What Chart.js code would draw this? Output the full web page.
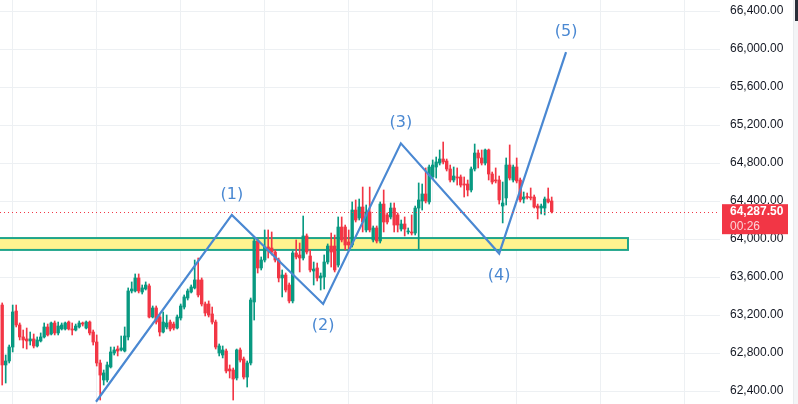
<!DOCTYPE html>
<html>
<head>
<meta charset="utf-8">
<style>
html,body{margin:0;padding:0;background:#ffffff;overflow:hidden}
#wrap{width:798px;height:404px;position:relative}
canvas{display:block}
</style>
<script src="https://cdn.jsdelivr.net/npm/chart.js@4.4.1/dist/chart.umd.min.js"></script>
</head>
<body>
<div id="wrap"><canvas id="c" width="798" height="404"></canvas></div>
<script>
// ---- data ----
const openP = [
63305,62674,62716,62863,63242,63095,62969,62948,62927,62948,
62874,62927,62969,63074,63000,63116,63011,63053,63053,63126,
63053,63042,63074,63116,63063,63126,63021,62916,62695,62516,
62516,62653,62800,62842,62832,62821,62969,63453,63453,63590,
63442,63474,63506,63179,63274,63179,63021,63074,63126,63105,
63063,63169,63284,63379,63442,63485,63569,63569,63316,63316,
63211,63126,62800,62779,62821,62632,62621,62537,62832,62737,
62547,62695,63337,63979,63695,63779,63916,63905,63863,63779,
63590,63621,63516,63348,63853,63832,63800,64032,63821,63663,
63695,63590,63600,63758,63926,63926,63726,64126,64126,63969,
63937,64305,64221,64337,64095,64284,63990,64116,63979,64368,
64253,64232,64326,64253,64105,64158,64074,64074,64063,64326,
64400,64474,64390,64653,64758,64800,64842,64821,64737,64621,
64653,64653,64579,64579,64516,64737,64905,64853,64800,64937,
64684,64621,64621,64347,64432,64779,64621,64758,64621,64421,
64442,64442,64442,64347,64326,64326,64421,64400];
const highP = [
63327,62779,62884,63305,63305,63116,63042,63063,63021,63000,
62969,63011,63116,63105,63126,63137,63126,63116,63126,63137,
63116,63105,63137,63126,63137,63137,63042,62990,62726,62621,
62705,62863,62863,62874,62979,63074,63485,63548,63632,63632,
63516,63548,63527,63295,63295,63200,63232,63200,63147,63126,
63200,63316,63411,63474,63516,63779,63800,63590,63337,63348,
63284,63147,62895,62874,62842,62674,62642,62842,62853,62758,
62716,63379,64011,64000,63811,64095,64095,64074,63884,63800,
63674,63642,63537,63874,63990,63958,64242,64053,63884,63758,
63747,63642,63832,63948,64063,64042,64232,64232,64147,64095,
64390,64411,64421,64547,64358,64547,64137,64137,64390,64516,
64274,64379,64379,64274,64200,64232,64116,64253,64347,64590,
64579,64748,64779,64832,64863,64937,65021,64842,64779,64758,
64748,64674,64653,64621,64758,65000,64937,64937,64947,64947,
64705,64748,64663,64600,64853,64990,64779,64853,64642,64495,
64484,64537,64463,64368,64368,64442,64537,64442];
const lowP = [
62463,62484,62695,62811,63074,62937,62853,62842,62884,62853,
62863,62916,62958,62979,62990,62990,62990,63042,63042,63042,
62990,63032,63063,63084,63053,62990,62884,62663,62305,62463,
62495,62642,62779,62769,62821,62811,62937,63432,63442,63432,
63421,63463,63169,63169,63105,62979,63011,63053,63032,63042,
63053,63147,63263,63358,63432,63474,63390,63295,63190,63179,
63105,62842,62769,62748,62590,62537,62305,62516,62705,62526,
62442,62674,63147,63642,63674,63758,63800,63832,63758,63548,
63390,63442,63327,63327,63790,63653,63779,63842,63653,63516,
63558,63463,63474,63737,63705,63653,63705,63969,63884,63884,
63916,64179,64200,64074,64074,64074,63969,63958,63958,64074,
64158,64211,64074,64074,64084,64032,64053,64042,64042,63895,
64305,64379,64368,64632,64642,64779,64790,64716,64600,64600,
64568,64547,64442,64453,64495,64716,64748,64779,64779,64621,
64579,64590,64368,64169,64358,64621,64600,64590,64390,64379,
64421,64411,64326,64211,64263,64253,64379,64274];
const closeP = [
62674,62716,62863,63232,63095,62969,62937,62927,62948,62874,
62937,62969,63074,62990,63116,63011,63084,63095,63116,63053,
63042,63084,63116,63105,63126,63011,62916,62695,62568,62590,
62674,62811,62832,62821,62853,62979,63453,63474,63590,63453,
63485,63516,63179,63274,63126,63021,63126,63116,63053,63063,
63179,63295,63390,63453,63495,63569,63411,63316,63221,63200,
63126,62863,62874,62832,62611,62611,62526,62832,62726,62547,
62695,63358,63979,63695,63779,63916,63874,63863,63779,63590,
63621,63463,63348,63853,63811,63800,64032,63863,63674,63684,
63590,63611,63758,63926,63863,63674,64126,63990,63937,63937,
64305,64200,64337,64179,64284,64095,64116,63979,64368,64179,
64179,64326,64147,64147,64158,64105,64084,64063,64326,64411,
64474,64400,64758,64779,64811,64842,64811,64737,64621,64663,
64642,64568,64568,64516,64737,64905,64853,64800,64937,64684,
64600,64611,64411,64379,64779,64642,64758,64611,64411,64442,
64437,64432,64337,64326,64347,64421,64390,64287.5];

const yTickValues = [62400,62800,63200,63600,64000,64400,64800,65200,65600,66000,66400];
const xGridIndex = [3,27,51,75,99,123,147,171,195];

// Elliott wave pivots (bar index, price)
const waveIndex = [26.8, 65.6, 91.7, 113.9, 142.0, 161.1];
const wavePrice = [62287, 64253, 63316, 65007, 63847, 65968];
const waveLabels = ['(1)','(2)','(3)','(4)','(5)'];

// support zone
const zoneTop = 64010;
const zoneBottom = 63885;
const zoneEndIndex = 178.8;

const lastPrice = 64287.5;
const countdown = '00:26';

// ---- styling ----
const GREEN = '#089981';
const RED = '#f23645';
const BLUE = '#4a88d2';
const GRID = '#edf0f3';

const idx = openP.map((_, i) => i);
const candleColors = idx.map(i => closeP[i] >= openP[i] ? GREEN : RED);
const fmt = v => Number(v).toLocaleString('en-US', {minimumFractionDigits: 2, maximumFractionDigits: 2});

const zonePlugin = {
  id: 'zone',
  beforeDatasetsDraw(chart) {
    const {ctx, chartArea, scales: {x, y}} = chart;
    const x1 = x.getPixelForValue(zoneEndIndex);
    const yt = y.getPixelForValue(zoneTop);
    const yb = y.getPixelForValue(zoneBottom);
    ctx.save();
    ctx.beginPath();
    ctx.rect(chartArea.left, chartArea.top, chartArea.right - chartArea.left, chartArea.bottom - chartArea.top);
    ctx.clip();
    ctx.fillStyle = '#fff38f';
    ctx.fillRect(chartArea.left - 5, yt, x1 - chartArea.left + 5, yb - yt);
    ctx.strokeStyle = '#1fa58a';
    ctx.lineWidth = 2;
    ctx.strokeRect(chartArea.left - 5, yt, x1 - chartArea.left + 5, yb - yt);
    ctx.restore();
  }
};

const overlayPlugin = {
  id: 'overlay',
  afterDatasetsDraw(chart) {
    const {ctx, chartArea, scales: {x, y}} = chart;
    // price line
    const py = Math.round(y.getPixelForValue(lastPrice)) + 0.5;
    ctx.save();
    ctx.strokeStyle = RED;
    ctx.lineWidth = 1;
    ctx.setLineDash([1, 3]);
    ctx.beginPath();
    ctx.moveTo(chartArea.left, py);
    ctx.lineTo(chartArea.right, py);
    ctx.stroke();
    ctx.setLineDash([]);
    // wave labels
    ctx.fillStyle = BLUE;
    ctx.font = '16px "DejaVu Sans"';
    ctx.textAlign = 'center';
    ctx.textBaseline = 'middle';
    for (let k = 1; k < waveIndex.length; k++) {
      const px = x.getPixelForValue(waveIndex[k]);
      const pyy = y.getPixelForValue(wavePrice[k]);
      const up = (k % 2 === 1);
      ctx.fillText(waveLabels[k - 1], px, up ? pyy - 20 : pyy + 22);
    }
    ctx.restore();
  },
  afterDraw(chart) {
    const {ctx, chartArea, scales: {y}} = chart;
    const py = y.getPixelForValue(lastPrice);
    ctx.save();
    ctx.fillStyle = RED;
    ctx.fillRect(chartArea.right + 2, py - 7.5, 66, 30);
    ctx.textAlign = 'left';
    ctx.textBaseline = 'middle';
    ctx.fillStyle = '#ffffff';
    ctx.font = 'bold 12px "Liberation Sans"';
    ctx.fillText(fmt(lastPrice), chartArea.right + 10, py);
    ctx.fillStyle = 'rgba(255,255,255,0.78)';
    ctx.font = '12px "Liberation Sans"';
    ctx.fillText(countdown, chartArea.right + 10, py + 14.5);
    // right-edge scrollbar strip
    ctx.fillStyle = '#e9ebee';
    ctx.fillRect(793, 0, 1, 404);
    ctx.fillStyle = '#f3f4f6';
    ctx.fillRect(794, 0, 4, 404);
    ctx.fillStyle = '#2a2e39';
    ctx.fillRect(795, 0, 3, 21);
    ctx.restore();
  }
};

new Chart(document.getElementById('c'), {
  type: 'bar',
  data: {
    datasets: [
      {
        type: 'line',
        data: waveIndex.map((v, i) => ({x: v, y: wavePrice[i]})),
        borderColor: BLUE,
        borderWidth: 2.2,
        pointRadius: 0,
        tension: 0,
        fill: false,
        order: -1
      },
      {
        type: 'bar',
        data: idx.map(i => ({x: i, y: [openP[i], closeP[i]]})),
        backgroundColor: candleColors,
        barThickness: 2.7,
        minBarLength: 1,
        grouped: false,
        order: 0
      },
      {
        type: 'bar',
        data: idx.map(i => ({x: i, y: [lowP[i], highP[i]]})),
        backgroundColor: candleColors,
        barThickness: 1,
        grouped: false,
        order: 1
      }
    ]
  },
  options: {
    responsive: false,
    animation: false,
    layout: {padding: 0},
    plugins: {legend: {display: false}, tooltip: {enabled: false}},
    scales: {
      x: {
        type: 'linear',
        min: -0.629,
        max: 205.09,
        offset: false,
        grid: {color: GRID, drawTicks: false, offset: false},
        border: {display: false},
        ticks: {display: false},
        afterBuildTicks: s => { s.ticks = xGridIndex.map(v => ({value: v})); },
        afterFit: s => { s.height = 0; s.paddingLeft = 0; s.paddingRight = 0; }
      },
      y: {
        type: 'linear',
        position: 'right',
        min: 62263.2,
        max: 66515.8,
        beginAtZero: false,
        grid: {color: GRID, drawTicks: false},
        border: {display: false},
        ticks: {
          padding: 10,
          crossAlign: 'near',
          autoSkip: false,
          color: '#131722',
          font: {family: '"Liberation Sans"', size: 12},
          callback: v => fmt(v)
        },
        afterBuildTicks: s => { s.ticks = yTickValues.map(v => ({value: v})); },
        afterFit: s => { s.width = 78; s.paddingTop = 0; s.paddingBottom = 0; }
      }
    }
  },
  plugins: [zonePlugin, overlayPlugin]
});
</script>
</body>
</html>
